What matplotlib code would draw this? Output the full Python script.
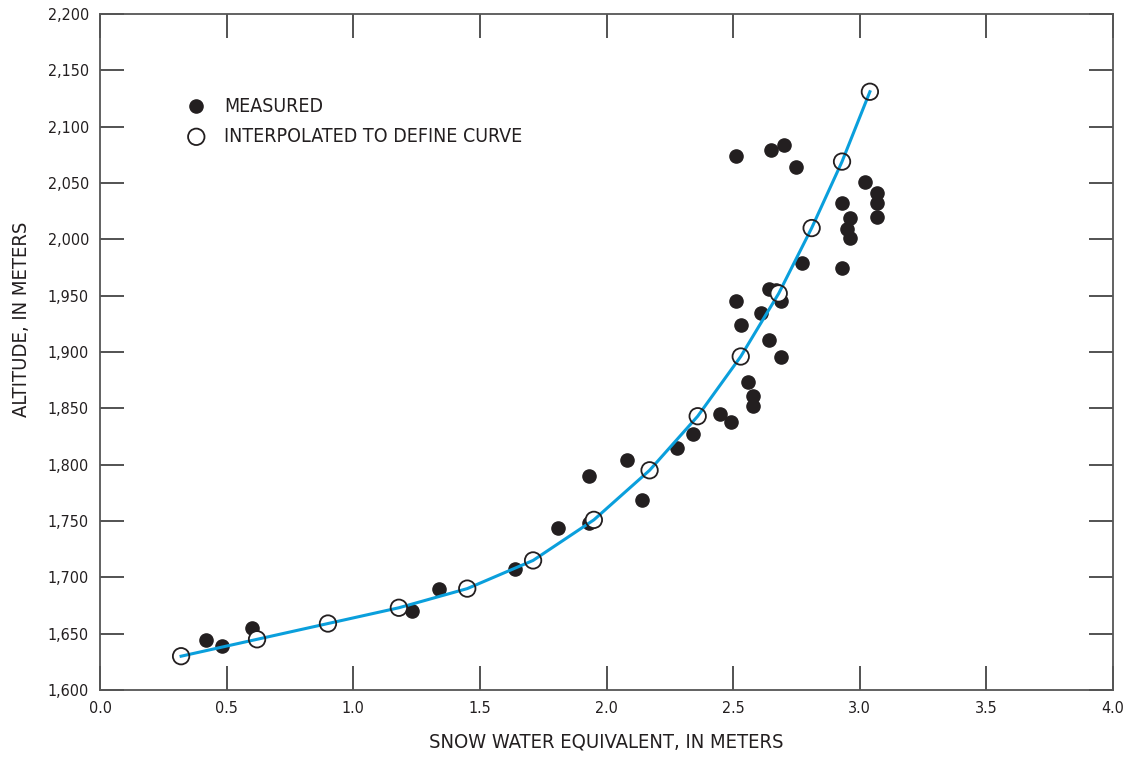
import numpy as np
import matplotlib.pyplot as plt

plt.rcParams['font.family'] = ['DejaVu Sans']
plt.rcParams['font.stretch'] = 'condensed'

# measured snow water equivalent (m) vs altitude (m)
meas_swe = [0.42, 0.48, 0.60, 1.23, 1.34, 1.64, 1.81, 1.93, 1.93, 2.08, 2.14,
            2.28, 2.34, 2.45, 2.49, 2.56, 2.58, 2.58, 2.64, 2.69, 2.53, 2.61,
            2.51, 2.69, 2.64, 2.67, 2.77, 2.93, 2.96, 2.95, 2.96, 2.93, 3.07,
            3.07, 3.07, 3.02, 2.51, 2.65, 2.70, 2.75]
meas_alt = [1644, 1639, 1655, 1670, 1690, 1707, 1744, 1790, 1748, 1804, 1769,
            1815, 1827, 1845, 1838, 1873, 1861, 1852, 1911, 1896, 1924, 1935,
            1945, 1945, 1956, 1955, 1979, 1975, 2001, 2009, 2019, 2032, 2020,
            2032, 2041, 2051, 2074, 2079, 2084, 2064]

# points
curve_swe = [0.32, 0.62, 0.90, 1.18, 1.45, 1.71, 1.95, 2.17, 2.36, 2.53,
             2.68, 2.81, 2.93, 3.04]
curve_alt = [1630, 1645, 1659, 1673, 1690, 1715, 1751, 1795, 1843, 1896,
             1952, 2010, 2069, 2131]

fig = plt.figure(figsize=(11.28, 7.57), dpi=100)
ax = fig.add_axes([0.0887, 0.0885, 0.898, 0.893])

ax.scatter(meas_swe, meas_alt, s=90, color='#231f20', zorder=3)
ax.scatter(curve_swe, curve_alt, s=140, facecolors='white', edgecolors='none', zorder=4)
ax.plot(curve_swe, curve_alt, color='#0a9fdc', lw=2.2, zorder=5)
ax.scatter(curve_swe, curve_alt, s=140, facecolors='none', edgecolors='#231f20',
           linewidths=1.3, zorder=6)

ax.set_xlim(0, 4)
ax.set_ylim(1600, 2200)
xt = np.arange(0, 4.01, 0.5)
yt = np.arange(1600, 2201, 50)
ax.set_xticks(xt)
ax.set_yticks(yt)
ax.set_xticklabels([f'{v:.1f}' for v in xt])
ax.set_yticklabels([f'{int(v):,}' for v in yt])
ax.tick_params(direction='in', length=17, width=1.3, color='#444444',
               top=True, right=True, labelsize=11.5, pad=8, labelcolor='#231f20')

for sp in ax.spines.values():
    sp.set_color('#555555')
    sp.set_linewidth(1.3)

ax.set_xlabel('SNOW WATER EQUIVALENT, IN METERS', fontsize=14.5, color='#231f20',
              labelpad=12)
ax.set_ylabel('ALTITUDE, IN METERS', fontsize=14.5, color='#231f20')
ax.yaxis.set_label_coords(-0.068, 0.549)

# legend
ax.scatter([0.38], [2118], s=90, color='#231f20')
ax.scatter([0.38], [2091], s=140, facecolors='none', edgecolors='#231f20',
           linewidths=1.3)
ax.text(0.49, 2118, 'MEASURED', fontsize=14, va='center', color='#231f20')
ax.text(0.49, 2091, 'INTERPOLATED TO DEFINE CURVE', fontsize=14, va='center',
        color='#231f20')

fig.savefig('out.png', dpi=100)
